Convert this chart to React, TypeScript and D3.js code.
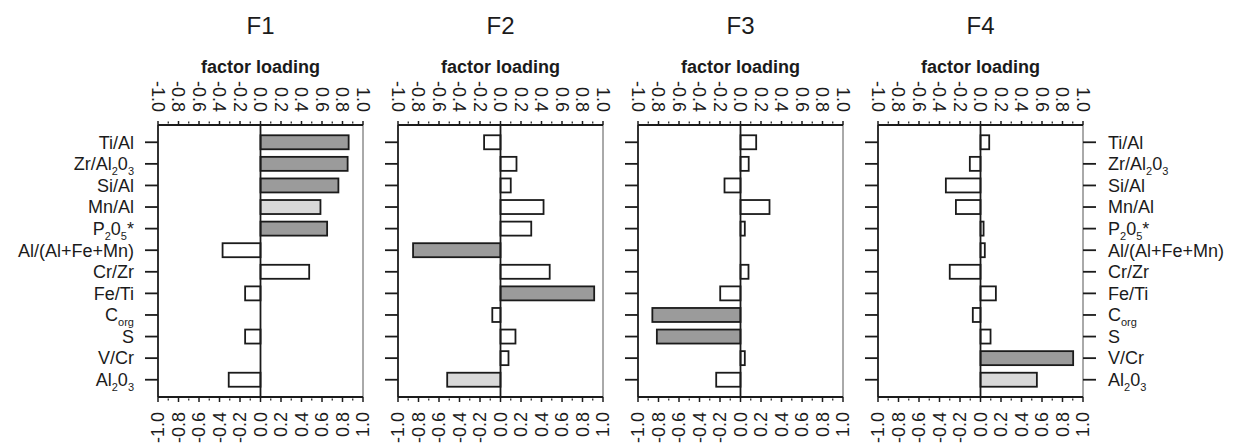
import React from "react";
import * as d3 from "d3";

// ---- data ----
const factors = ["F1", "F2", "F3", "F4"];

// label segments: [text, isSubscript]
const variableLabels: [string, boolean][][] = [
  [["Ti/Al", false]],
  [["Zr/Al", false], ["2", true], ["0", false], ["3", true]],
  [["Si/Al", false]],
  [["Mn/Al", false]],
  [["P", false], ["2", true], ["0", false], ["5", true], ["*", false]],
  [["Al/(Al+Fe+Mn)", false]],
  [["Cr/Zr", false]],
  [["Fe/Ti", false]],
  [["C", false], ["org", true]],
  [["S", false]],
  [["V/Cr", false]],
  [["Al", false], ["2", true], ["0", false], ["3", true]],
];

const f1Values = [0.86, 0.85, 0.76, 0.585, 0.65, -0.37, 0.475, -0.15, 0, -0.15, 0, -0.31];
const f2Values = [-0.16, 0.156, 0.1, 0.42, 0.3, -0.853, 0.48, 0.914, -0.08, 0.146, 0.078, -0.52];
const f3Values = [0.153, 0.08, -0.156, 0.283, 0.042, 0, 0.078, -0.198, -0.86, -0.816, 0.042, -0.237];
const f4Values = [0.085, -0.104, -0.338, -0.24, 0.03, 0.042, -0.3, 0.15, -0.075, 0.098, 0.904, 0.55];

// shading: d = dark, l = light, w = white
const f1Shade = ["d", "d", "d", "l", "d", "w", "w", "w", "w", "w", "w", "w"];
const f2Shade = ["w", "w", "w", "w", "w", "d", "w", "d", "w", "w", "w", "l"];
const f3Shade = ["w", "w", "w", "w", "w", "w", "w", "w", "d", "d", "w", "w"];
const f4Shade = ["w", "w", "w", "w", "w", "w", "w", "w", "w", "w", "d", "l"];

const tickValues = [-1.0, -0.8, -0.6, -0.4, -0.2, 0.0, 0.2, 0.4, 0.6, 0.8, 1.0];
const tickLabels = ["-1.0", "-0.8", "-0.6", "-0.4", "-0.2", "0.0", "0.2", "0.4", "0.6", "0.8", "1.0"];
const minorTicks = [-0.9, -0.7, -0.5, -0.3, -0.1, 0.1, 0.3, 0.5, 0.7, 0.9];

const axisTitle = "factor loading";

const allValues = [f1Values, f2Values, f3Values, f4Values];
const allShades = [f1Shade, f2Shade, f3Shade, f4Shade];

// ---- layout ----
const W = 1243;
const H = 443;
const FONT = "'Liberation Sans', Arial, Helvetica, sans-serif";
const panelLeft0 = 158;
const panelStep = 240;
const panelW = 205;
const top = 125;
const bottom = 397;
const ink = "#1b1b1b";
const shadeColor: Record<string, string> = { d: "#9b9b9b", l: "#d9d9d9", w: "#ffffff" };

const yScale = d3
  .scalePoint<number>()
  .domain(d3.range(variableLabels.length))
  .range([top, bottom])
  .padding(0.8);
const barH = 14;

function Label({ parts, x, y, anchor }: { parts: [string, boolean][]; x: number; y: number; anchor: string }) {
  return (
    <text x={x} y={y} textAnchor={anchor} dy="0.35em" fontSize={18} fontFamily={FONT} fill={ink}>
      {parts.map(([t, sub], i) => {
        const prevSub = i > 0 && parts[i - 1][1];
        let dy: number | undefined = undefined;
        if (sub && !prevSub) dy = 5;
        else if (!sub && prevSub) dy = -5;
        return (
          <tspan key={i} dy={dy} fontSize={sub ? 11 : 18}>
            {t}
          </tspan>
        );
      })}
    </text>
  );
}

function Panel({ idx }: { idx: number }) {
  const left = panelLeft0 + idx * panelStep;
  const x = d3.scaleLinear().domain([-1, 1]).range([left, left + panelW]);
  const values = allValues[idx];
  const shades = allShades[idx];
  const cx = x(0);
  return (
    <g>
      <text x={cx} y={34} textAnchor="middle" fontSize={24} fontFamily={FONT} fill={ink}>
        {factors[idx]}
      </text>
      <text x={cx} y={73} textAnchor="middle" fontSize={18} fontWeight="bold" fontFamily={FONT} fill={ink}>
        {axisTitle}
      </text>
      {/* bars */}
      {values.map((v, i) =>
        v === 0 ? null : (
          <rect
            key={i}
            x={Math.min(x(v), cx)}
            y={(yScale(i) as number) - barH / 2}
            width={Math.abs(x(v) - cx)}
            height={barH}
            fill={shadeColor[shades[i]]}
            stroke={ink}
            strokeWidth={1.8}
          />
        )
      )}
      {/* frame */}
      <line x1={x(1)} x2={x(1)} y1={top} y2={bottom} stroke="#555" strokeWidth={1} />
      <line x1={x(-1)} x2={x(-1)} y1={top} y2={bottom} stroke={ink} strokeWidth={1.8} />
      <line x1={x(-1)} x2={x(1)} y1={top} y2={top} stroke={ink} strokeWidth={1.8} />
      <line x1={x(-1)} x2={x(1)} y1={bottom} y2={bottom} stroke={ink} strokeWidth={1.8} />
      <line x1={cx} x2={cx} y1={top} y2={bottom} stroke={ink} strokeWidth={1.8} />
      {/* left ticks */}
      {variableLabels.map((_, i) => (
        <line key={"lt" + i} x1={x(-1) - 13} x2={x(-1)} y1={yScale(i)} y2={yScale(i)} stroke={ink} strokeWidth={1.8} />
      ))}
      {idx === 0 &&
        variableLabels.map((p, i) => (
          <Label key={"ll" + i} parts={p} x={x(-1) - 24} y={yScale(i) as number} anchor="end" />
        ))}
      {idx === factors.length - 1 &&
        variableLabels.map((p, i) => (
          <g key={"r" + i}>
            <line x1={x(1)} x2={x(1) + 13} y1={yScale(i)} y2={yScale(i)} stroke={ink} strokeWidth={1.8} />
            <Label parts={p} x={x(1) + 25} y={yScale(i) as number} anchor="start" />
          </g>
        ))}
      {/* top & bottom ticks */}
      {tickValues.map((t, i) => (
        <g key={"t" + i}>
          <line x1={x(t)} x2={x(t)} y1={top - 4} y2={top} stroke={ink} strokeWidth={1.5} />
          <line x1={x(t)} x2={x(t)} y1={bottom} y2={bottom + 5} stroke={ink} strokeWidth={1.5} />
          <text
            transform={`translate(${x(t)},${top - 13}) rotate(90)`}
            textAnchor="end"
            dy="0.35em"
            fontSize={18}
            fontFamily={FONT}
            fill={ink}
          >
            {tickLabels[i]}
          </text>
          <text
            transform={`translate(${x(t)},${bottom + 15}) rotate(-90)`}
            textAnchor="end"
            dy="0.35em"
            fontSize={18}
            fontFamily={FONT}
            fill={ink}
          >
            {tickLabels[i]}
          </text>
        </g>
      ))}
      {minorTicks.map((t, i) => (
        <g key={"m" + i}>
          <line x1={x(t)} x2={x(t)} y1={top - 3.5} y2={top - 1.5} stroke={ink} strokeWidth={1.2} />
          <line x1={x(t)} x2={x(t)} y1={bottom + 1.5} y2={bottom + 3.5} stroke={ink} strokeWidth={1.2} />
        </g>
      ))}
    </g>
  );
}

export default function App() {
  return (
    <svg
      width={W}
      height={H}
      viewBox={`0 0 ${W} ${H}`}
      style={{ position: "absolute", left: 0, top: 0, background: "#fff" }}
    >
      <rect x={0} y={0} width={W} height={H} fill="#fff" />
      {factors.map((_, i) => (
        <Panel key={i} idx={i} />
      ))}
    </svg>
  );
}
